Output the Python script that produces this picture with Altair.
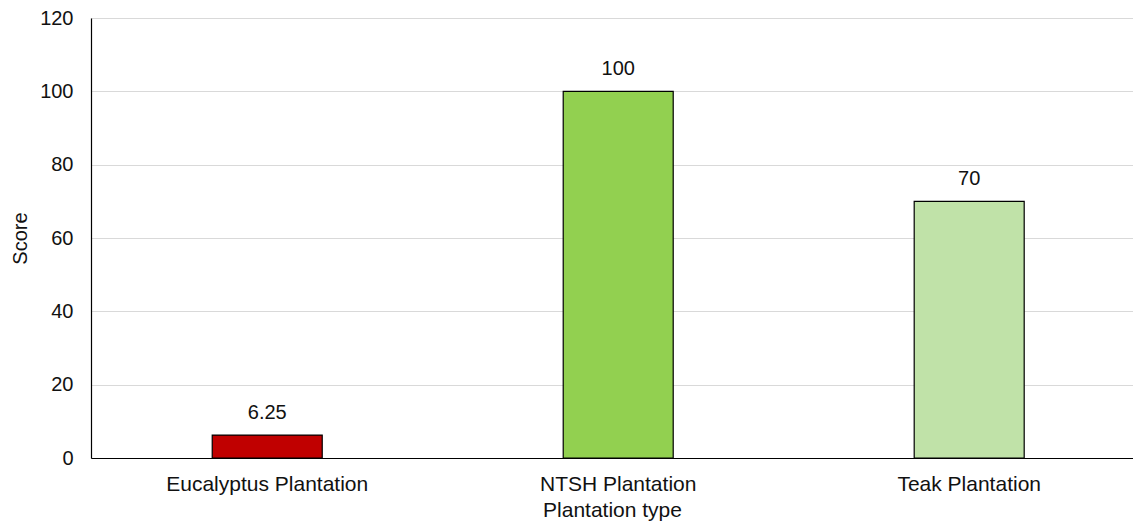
import altair as alt
import pandas as pd

categories = ["Eucalyptus Plantation", "NTSH Plantation", "Teak Plantation"]
scores = [6.25, 100, 70]
colors = ["#C00000", "#92D050", "#C0E2A8"]
y_ticks = [0, 20, 40, 60, 80, 100, 120]

df = pd.DataFrame({
    "category": categories,
    "score": scores,
    "color": colors,
    "label": [f"{v:g}" for v in scores],
})

FONT = "Liberation Sans"
TXT = "#111111"

x = alt.X(
    "category:N",
    sort=categories,
    title="Plantation type",
    scale=alt.Scale(paddingInner=0.6866, paddingOuter=0.3277, align=0.527),
    axis=alt.Axis(
        labelAngle=0, ticks=False, tickSize=0, labelPadding=15, labelLimit=0,
        labelFont=FONT, labelFontSize=21, labelColor=TXT,
        titleFont=FONT, titleFontSize=21, titleColor=TXT, titleFontWeight="normal",
        titleY=58.5, titleBaseline="alphabetic",
        domainColor="#000000", domainWidth=1.2, grid=False,
    ),
)

y = alt.Y(
    "score:Q",
    title="Score",
    scale=alt.Scale(domain=[0, 120], nice=False),
    axis=alt.Axis(
        values=y_ticks, ticks=False, tickSize=0, labelPadding=18,
        labelFont=FONT, labelFontSize=20, labelColor=TXT,
        titleFont=FONT, titleFontSize=20, titleColor=TXT, titleFontWeight="normal",
        titleAngle=270, titleX=-64.5, titleY=220, titleAlign="center",
        titleBaseline="alphabetic",
        domainColor="#000000", domainWidth=1.2,
        grid=True, gridColor="#D9D9D9", gridWidth=1.2,
    ),
)

bars = alt.Chart(df).mark_bar(stroke="#000000", strokeWidth=1.2).encode(
    x=x,
    y=y,
    color=alt.Color("color:N", scale=None, legend=None),
)

text = alt.Chart(df).mark_text(
    dy=-16, baseline="alphabetic", font=FONT, fontSize=20, color=TXT
).encode(
    x=alt.X("category:N", sort=categories),
    y=alt.Y("score:Q"),
    text="label:N",
)

chart = (bars + text).properties(
    width=1042,
    height=440,
    padding={"left": 83, "top": 10, "right": 0, "bottom": 63},
    autosize=alt.AutoSizeParams(type="none"),
).configure_view(stroke=None).configure(background="#ffffff")

chart.save("out.html", embed_options={"renderer": "svg", "actions": False})
